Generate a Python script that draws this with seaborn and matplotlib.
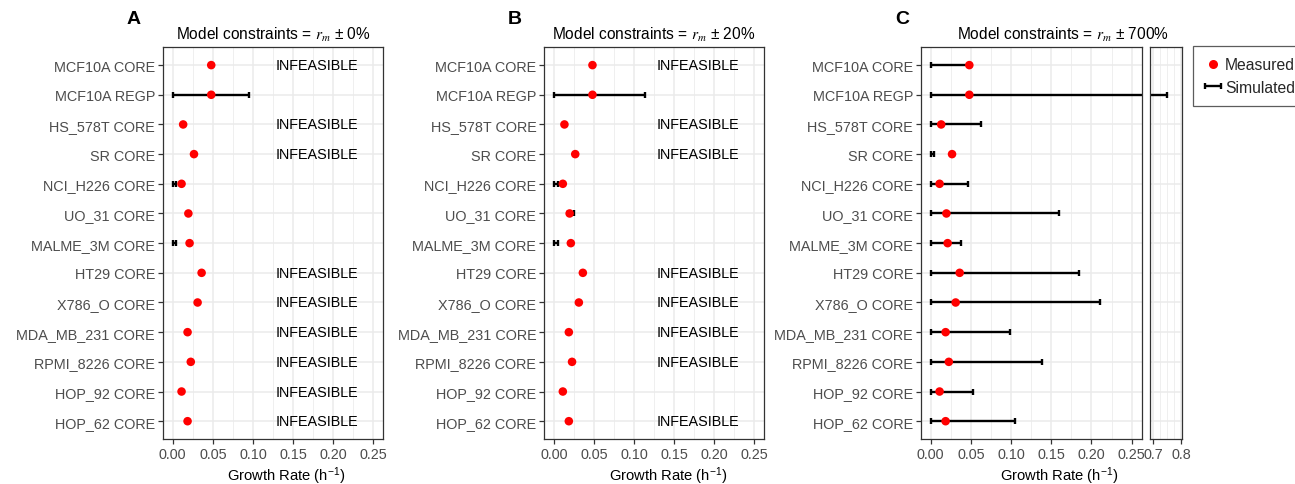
import numpy as np
import pandas as pd
import matplotlib
matplotlib.use("Agg")
import matplotlib.pyplot as plt
from matplotlib.ticker import FixedLocator
import seaborn as sns

# data
cell_lines = ["MCF10A CORE", "MCF10A REGP", "HS_578T CORE", "SR CORE", "NCI_H226 CORE",
              "UO_31 CORE", "MALME_3M CORE", "HT29 CORE", "X786_O CORE", "MDA_MB_231 CORE",
              "RPMI_8226 CORE", "HOP_92 CORE", "HOP_62 CORE"]
measured = [0.048, 0.048, 0.013, 0.0265, 0.011, 0.0195, 0.021, 0.036, 0.031, 0.0185,
            0.0225, 0.011, 0.0185]

nan = np.nan
# simulated ranges (nan = infeasible)
sim_lo_a = [nan, 0.0, nan, nan, 0.0, 0.019, 0.0, nan, nan, nan, nan, nan, nan]
sim_hi_a = [nan, 0.095, nan, nan, 0.004, 0.020, 0.004, nan, nan, nan, nan, nan, nan]
sim_lo_b = [nan, 0.0, nan, nan, 0.0, 0.017, 0.0, nan, nan, nan, nan, 0.0105, nan]
sim_hi_b = [nan, 0.114, nan, nan, 0.005, 0.0245, 0.005, nan, nan, nan, nan, 0.0115, nan]
sim_lo_c = [0.0] * 13
sim_hi_c = [0.048, 0.75, 0.063, 0.0045, 0.046, 0.159, 0.038, 0.184, 0.21, 0.099,
            0.138, 0.053, 0.105]

titles = ["0%", "20%", "700%"]

sns.set_theme(style="whitegrid")
plt.rcParams["font.family"] = ["Liberation Sans", "DejaVu Sans"]
plt.rcParams["mathtext.fontset"] = "stix"

W, H = 1295, 485
fig = plt.figure(figsize=(W / 100, H / 100), dpi=100)


def px_axes(x0, x1, y0=48.3, y1=440):
    return fig.add_axes([x0 / W, 1 - y1 / H, (x1 - x0) / W, (y1 - y0) / H])


GRID = "#EBEBEB"
FRAME = "#333333"
TICKLAB = "#4D4D4D"
FS = 10.4


def style_axes(ax, xlim, major, minor, show_y=True, ticklabels=None):
    ax.set_xlim(*xlim)
    ax.set_ylim(len(cell_lines) - 0.4, -0.6)
    ax.xaxis.set_major_locator(FixedLocator(major))
    ax.xaxis.set_minor_locator(FixedLocator(minor))
    if ticklabels is not None:
        ax.set_xticklabels(ticklabels)
    else:
        ax.set_xticklabels([f"{v:.2f}" for v in major])
    ax.set_yticks(range(len(cell_lines)))
    if show_y:
        ax.set_yticklabels(cell_lines)
    else:
        ax.set_yticklabels([])
    ax.grid(False)
    ax.grid(which="major", color=GRID, lw=1.1)
    ax.grid(which="minor", axis="x", color=GRID, lw=0.55)
    ax.set_axisbelow(True)
    for sp in ax.spines.values():
        sp.set_visible(True)
        sp.set_color(FRAME)
        sp.set_linewidth(0.9)
    ax.tick_params(axis="x", which="major", bottom=True, length=3.5, width=0.9,
                   color=FRAME, labelcolor=TICKLAB, labelsize=FS, pad=2)
    ax.tick_params(axis="y", which="major", left=show_y, length=3.5 if show_y else 0,
                   width=0.9, color=FRAME, labelcolor=TICKLAB, labelsize=FS, pad=2)
    ax.tick_params(which="minor", length=0)
    ax.set_xlabel("")
    ax.set_ylabel("")


def draw(ax, lo, hi, infeasible_text=True):
    df = pd.DataFrame({"cell": cell_lines, "pos": np.arange(len(cell_lines)),
                       "measured": measured, "lo": lo, "hi": hi})
    ok = df.dropna(subset=["lo", "hi"])
    mid = (ok["lo"] + ok["hi"]) / 2
    eb = ax.errorbar(mid, ok["pos"], xerr=[mid - ok["lo"], ok["hi"] - mid], fmt="none",
                     ecolor="black", elinewidth=1.7, capsize=2.5, capthick=1.7, zorder=2)
    sns.scatterplot(data=df, x="measured", y="pos", ax=ax, color="#FF0000", s=38,
                    edgecolor="none", linewidth=0, zorder=5)
    if infeasible_text:
        for _, r in df[df["lo"].isna()].iterrows():
            ax.text(0.18, r["pos"], "INFEASIBLE", ha="center", va="center",
                    fontsize=FS, color="black")
    return eb


xlim_main = (-0.0125, 0.2625)
major_main = [0, 0.05, 0.10, 0.15, 0.20, 0.25]
minor_main = [0.025, 0.075, 0.125, 0.175, 0.225]

ax_a = px_axes(162.7, 383.3)
draw(ax_a, sim_lo_a, sim_hi_a)
style_axes(ax_a, xlim_main, major_main, minor_main)

ax_b = px_axes(544, 764.3)
draw(ax_b, sim_lo_b, sim_hi_b)
style_axes(ax_b, xlim_main, major_main, minor_main)

ax_c = px_axes(920.7, 1141.7)
eb = draw(ax_c, sim_lo_c, sim_hi_c)
style_axes(ax_c, xlim_main, major_main, minor_main)

ax_c2 = px_axes(1150, 1182)
draw(ax_c2, sim_lo_c, sim_hi_c)
style_axes(ax_c2, (0.688, 0.8025), [0.7, 0.8], [0.725, 0.75, 0.775], show_y=False,
           ticklabels=["0.7", "0.8"])

# titles, axis labels, panel letters
for cx, pct in zip([273, 654, 1063], titles):
    fig.text(cx / W, 1 - 35 / H, r"Model constraints = $r_m$ ± " + pct, ha="center",
             va="center", fontsize=11.2, color="black")
for cx in [286, 668, 1059.7]:
    fig.text(cx / W, 1 - 481 / H, r"Growth Rate (h$^{\mathregular{-1}}$)", ha="center",
             va="baseline", fontsize=10.6, color="black")
for cx, letter in zip([134, 515, 902], ["A", "B", "C"]):
    fig.text(cx / W, 1 - 20 / H, letter, ha="center", va="center", fontsize=14,
             fontweight="bold", color="black")

# legend
meas_handle = plt.Line2D([], [], ls="none", marker="o", color="#FF0000", markersize=6.5,
                         markeredgewidth=0)
leg = fig.legend([meas_handle, eb], ["Measured", "Simulated"], loc="upper left",
                 bbox_to_anchor=(1192.7 / W, 1 - 46.7 / H), frameon=True, fontsize=11.3,
                 handlelength=1.1, handletextpad=0.2, borderpad=0.75, labelspacing=0.45,
                 borderaxespad=0, fancybox=False)
leg.get_frame().set_edgecolor(FRAME)
leg.get_frame().set_linewidth(0.9)

fig.savefig("out.png", dpi=100)
